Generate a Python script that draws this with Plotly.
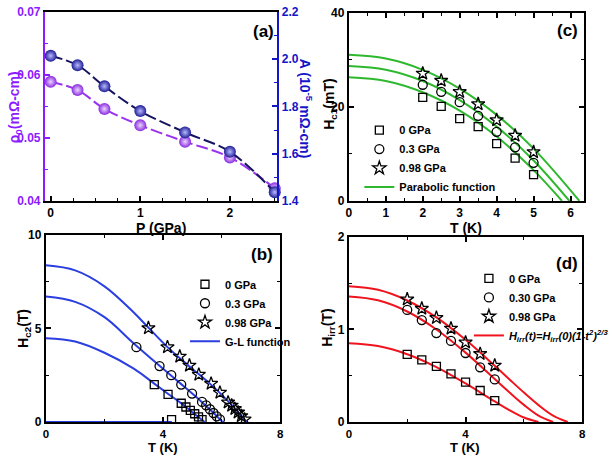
import plotly.graph_objects as go

# ---------------- data ----------------
# (a) residual resistivity and A coefficient vs pressure
P_gpa = [0, 0.3, 0.6, 1.0, 1.5, 2.0, 2.5]
rho0 = [0.0589, 0.0576, 0.0546, 0.0520, 0.0494, 0.0469, 0.0420]
A_coef = [2.014, 1.974, 1.885, 1.780, 1.690, 1.608, 1.437]

# (c) Hc1 vs T
T_c = [2, 2.5, 3, 3.5, 4, 4.5, 5]
hc1_0 = [22.0, 20.1, 17.5, 15.8, 12.2, 9.1, 5.6]
hc1_03 = [24.7, 23.2, 21.0, 18.1, 14.7, 11.4, 8.1]
hc1_098 = [27.1, 25.6, 23.2, 20.6, 17.2, 13.9, 10.4]
# parabolic fit curves
fitc_T0 = [0, 1, 2, 3, 4, 5, 5.77]
fitc_H0 = [26.3, 25.5, 23.1, 19.2, 13.7, 6.55, 0]
fitc_T1 = [0, 1, 2, 3, 4, 5, 5.97]
fitc_H1 = [28.7, 27.9, 25.5, 21.45, 15.8, 8.6, 0]
fitc_T2 = [0, 1, 2, 3, 4, 5, 6.24]
fitc_H2 = [31.07, 30.27, 27.88, 23.89, 18.3, 11.12, 0]

# (b) Hc2 vs T
b_T0 = [3.7, 4.17, 4.29, 4.62, 4.78, 4.93, 5.08, 5.21, 5.33]
b_H0 = [2.0, 1.48, 0.13, 1.0, 0.8, 0.62, 0.44, 0.27, 0.13]
b_T1 = [3.09, 3.88, 4.28, 4.62, 4.99, 5.33, 5.47, 5.6, 5.72, 5.83, 5.94]
b_H1 = [4.0, 2.99, 2.5, 2.0, 1.52, 1.07, 0.89, 0.68, 0.48, 0.3, 0.14]
b_T2 = [3.5, 4.15, 4.57, 4.9, 5.22, 5.64, 5.94, 6.22, 6.34, 6.45, 6.56, 6.67, 6.78]
b_H2 = [5.02, 4.0, 3.5, 3.02, 2.53, 2.05, 1.57, 1.05, 0.88, 0.7, 0.51, 0.32, 0.14]
# G-L fit curves
glb_T0 = [0, 1, 2, 3, 3.7, 4.2, 4.6, 5.0, 5.42]
glb_H0 = [4.48, 4.3, 3.7, 2.85, 2.05, 1.47, 1.02, 0.52, 0]
glb_T1 = [0, 1, 2, 3, 3.9, 4.6, 5.3, 5.7, 6.03]
glb_H1 = [6.7, 6.42, 5.6, 4.2, 2.98, 2.05, 1.1, 0.52, 0]
glb_T2 = [0, 1, 2, 3, 3.5, 4.15, 4.9, 5.6, 6.25, 6.85]
glb_H2 = [8.37, 8.1, 7.25, 5.85, 5.04, 4.0, 2.97, 2.05, 1.06, 0]
base_T = [0, 4.3]
base_H = [0, 0]

# (d) Hirr vs T
T_d = [2, 2.5, 3, 3.5, 4, 4.5, 5]
hirr_0 = [0.73, 0.67, 0.60, 0.52, 0.43, 0.34, 0.23]
hirr_03 = [1.21, 1.10, 0.96, 0.875, 0.745, 0.59, 0.46]
hirr_098 = [1.325, 1.225, 1.125, 1.01, 0.86, 0.735, 0.61]
fitd_T0 = [0, 1, 2, 3, 4, 5, 5.5, 6, 6.5]
fitd_H0 = [0.85, 0.82, 0.732, 0.593, 0.416, 0.222, 0.129, 0.048, 0]
fitd_T1 = [0, 1, 2, 3, 4, 5, 5.5, 6, 6.5, 7.0]
fitd_H1 = [1.355, 1.314, 1.193, 0.999, 0.749, 0.464, 0.321, 0.185, 0.069, 0]
fitd_T2 = [0, 1, 2, 3, 4, 5, 5.5, 6, 6.5, 7.0, 7.5]
fitd_H2 = [1.466, 1.427, 1.312, 1.129, 0.887, 0.607, 0.461, 0.317, 0.182, 0.068, 0]

# ---------------- styles ----------------
FONT = "Arial, Liberation Sans, sans-serif"
PURPLE = "#9A33F0"
PURPLE_AX = "#8C1CFF"
NAVY = "#1E1E96"
BLUE_AX = "#1515C8"
BLUE_L = "#2B3FE0"
RED_L = "#F0141E"
GREEN_L = "#2EB82E"
W, H = 614, 460

fig = go.Figure()

# ---- (a)
fig.add_trace(go.Scatter(x=P_gpa, y=rho0, xaxis="x", yaxis="y", mode="lines+markers",
                         line=dict(color=PURPLE, width=2, dash="12px,4px", shape="spline"),
                         marker=dict(size=12, color="#8A2BE0",
                                     gradient=dict(type="radial", color="#EBD6FF"),
                                     line=dict(width=0)),
                         cliponaxis=False, showlegend=False))
fig.add_trace(go.Scatter(x=P_gpa, y=A_coef, xaxis="x", yaxis="y2", mode="lines+markers",
                         line=dict(color="#141460", width=2, dash="12px,4px", shape="spline"),
                         marker=dict(size=12, color=NAVY,
                                     gradient=dict(type="radial", color="#B8B8FF"),
                                     line=dict(width=0)),
                         cliponaxis=False, showlegend=False))

# ---- (c)
mk_sq = dict(symbol="square-open", size=8, color="black", line=dict(width=1.3))
mk_ci = dict(symbol="circle-open", size=9, color="black", line=dict(width=1.3))
mk_st = dict(symbol="star-open", size=10, color="black", line=dict(width=1.3))

for i, (tx, hy) in enumerate([(fitc_T0, fitc_H0), (fitc_T1, fitc_H1), (fitc_T2, fitc_H2)]):
    fig.add_trace(go.Scatter(x=tx, y=hy, xaxis="x2", yaxis="y3", mode="lines",
                             line=dict(color=GREEN_L, width=2, shape="spline"),
                             name="Parabolic function", legend="legend",
                             showlegend=(i == 0), legendrank=4))
fig.add_trace(go.Scatter(x=T_c, y=hc1_0, xaxis="x2", yaxis="y3", mode="markers", marker=mk_sq,
                         name="0 GPa", legend="legend", legendrank=1))
fig.add_trace(go.Scatter(x=T_c, y=hc1_03, xaxis="x2", yaxis="y3", mode="markers", marker=mk_ci,
                         name="0.3 GPa", legend="legend", legendrank=2))
fig.add_trace(go.Scatter(x=T_c, y=hc1_098, xaxis="x2", yaxis="y3", mode="markers", marker=mk_st,
                         name="0.98 GPa", legend="legend", legendrank=3))

# ---- (b)
fig.add_trace(go.Scatter(x=base_T, y=base_H, xaxis="x3", yaxis="y4", mode="lines",
                         line=dict(color=BLUE_L, width=2), showlegend=False, cliponaxis=False))
for i, (tx, hy) in enumerate([(glb_T0, glb_H0), (glb_T1, glb_H1), (glb_T2, glb_H2)]):
    fig.add_trace(go.Scatter(x=tx, y=hy, xaxis="x3", yaxis="y4", mode="lines",
                             line=dict(color=BLUE_L, width=2, shape="spline"),
                             name="G-L function", legend="legend2",
                             showlegend=(i == 0), legendrank=4))
fig.add_trace(go.Scatter(x=b_T0, y=b_H0, xaxis="x3", yaxis="y4", mode="markers", marker=mk_sq,
                         name="0 GPa", legend="legend2", legendrank=1))
fig.add_trace(go.Scatter(x=b_T1, y=b_H1, xaxis="x3", yaxis="y4", mode="markers", marker=mk_ci,
                         name="0.3 GPa", legend="legend2", legendrank=2))
fig.add_trace(go.Scatter(x=b_T2, y=b_H2, xaxis="x3", yaxis="y4", mode="markers", marker=mk_st,
                         name="0.98 GPa", legend="legend2", legendrank=3))

# ---- (d)
for i, (tx, hy) in enumerate([(fitd_T0, fitd_H0), (fitd_T1, fitd_H1), (fitd_T2, fitd_H2)]):
    fig.add_trace(go.Scatter(x=tx, y=hy, xaxis="x4", yaxis="y5", mode="lines",
                             line=dict(color=RED_L, width=2, shape="spline"),
                             name="<i>H<sub>irr</sub>(t)=H<sub>irr</sub>(0)(1-t<sup>2</sup>)<sup>2/3</sup></i>",
                             legend="legend3", showlegend=(i == 0), legendrank=4))
fig.add_trace(go.Scatter(x=T_d, y=hirr_0, xaxis="x4", yaxis="y5", mode="markers", marker=mk_sq,
                         name="0 GPa", legend="legend3", legendrank=1))
fig.add_trace(go.Scatter(x=T_d, y=hirr_03, xaxis="x4", yaxis="y5", mode="markers", marker=mk_ci,
                         name="0.30 GPa", legend="legend3", legendrank=2))
fig.add_trace(go.Scatter(x=T_d, y=hirr_098, xaxis="x4", yaxis="y5", mode="markers", marker=mk_st,
                         name="0.98 GPa", legend="legend3", legendrank=3))


def px_x(v):
    return v / W


def px_y(v):
    return 1 - v / H


def ax(domain, rng, tickvals, ticktext, minor_dtick, anchor, color="black", mirror="ticks",
       side=None, overlaying=None, fsize=12):
    d = dict(domain=domain, range=rng, tickmode="array", tickvals=tickvals, ticktext=ticktext,
             ticks="inside", ticklen=5, tickwidth=1.5, tickcolor=color,
             minor=dict(ticks="inside", ticklen=3, tickwidth=1.2, dtick=minor_dtick,
                        tick0=0, tickcolor=color, showgrid=False),
             showline=True, linecolor=color, linewidth=2, mirror=mirror,
             showgrid=False, zeroline=False, anchor=anchor,
             tickfont=dict(family=FONT, size=fsize, color=color, weight="bold"))
    if side:
        d["side"] = side
    if overlaying:
        d["overlaying"] = overlaying
    return d


ya = [1 - 200 / H, 1 - 5 / H]
yc = [1 - 200 / H, 1 - 6 / H]
yb = [1 - 428 / H, 1 - 235 / H]
yd = [1 - 428 / H, 1 - 237 / H]

leg_common = dict(font=dict(family=FONT, size=11, color="black", weight="bold"),
                  bgcolor="rgba(0,0,0,0)", borderwidth=0, xanchor="left", yanchor="top",
                  tracegroupgap=0, traceorder="normal")

fig.update_layout(
    width=W, height=H, margin=dict(l=0, r=0, t=0, b=0),
    paper_bgcolor="white", plot_bgcolor="white",
    font=dict(family=FONT, size=12, color="black"),
    xaxis=ax([44 / W, 288 / W], [-0.064, 2.53], [0, 1, 2], ["0", "1", "2"], 0.25, "y",
             mirror=True),
    yaxis=ax(ya, [0.04, 0.07], [0.04, 0.05, 0.06, 0.07], ["0.04", "0.05", "0.06", "0.07"],
             0.005, "x", color=PURPLE_AX, mirror=False),
    yaxis2=ax(ya, [1.4, 2.2], [1.4, 1.6, 1.8, 2.0, 2.2], ["1.4", "1.6", "1.8", "2.0", "2.2"],
              0.1, "x", color=BLUE_AX, mirror=False, side="right", overlaying="y"),
    xaxis2=ax([363 / W, 610 / W], [0, 6.37], [0, 1, 2, 3, 4, 5, 6],
              ["0", "1", "2", "3", "4", "5", "6"], 0.5, "y3"),
    yaxis3=ax(yc, [0, 40], [0, 20, 40], ["0", "20", "40"], 10, "x2"),
    xaxis3=ax([45 / W, 291 / W], [0, 8], [0, 4, 8], ["0", "4", "8"], 2, "y4", fsize=11.5),
    yaxis4=ax(yb, [0, 10], [0, 5, 10], ["0", "5", "10"], 2.5, "x3"),
    xaxis4=ax([363 / W, 608 / W], [0, 8], [0, 4, 8], ["0", "4", "8"], 2, "y5", fsize=11.5),
    yaxis5=ax(yd, [0, 2], [0, 1, 2], ["0", "1", "2"], 0.5, "x4"),
    legend=dict(x=374 / W, y=px_y(112), **leg_common),
    legend2=dict(x=191 / W, y=px_y(271), **leg_common),
    legend3=dict(x=489 / W, y=px_y(265), **leg_common),
)

ann = []


def add_text(text, x, y, size=14, color="black", angle=0):
    ann.append(dict(text=text, x=px_x(x), y=px_y(y), xref="paper", yref="paper",
                    showarrow=False, textangle=angle, xanchor="center", yanchor="middle",
                    font=dict(family=FONT, size=size, color=color, weight="bold")))


add_text("(a)", 273, 25, size=17)
add_text("(c)", 592, 24, size=17)
add_text("(b)", 272, 255, size=17)
add_text("(d)", 592, 265, size=17)

add_text("P (GPa)", 166, 228, size=14)
add_text("ρ<sub>0</sub>(mΩ-cm)", 12, 103, size=14, color=PURPLE_AX, angle=-90)
add_text("A (10<sup>-5</sup> mΩ-cm)", 318, 105, size=14, color=BLUE_AX, angle=90)

add_text("T (K)", 486, 228, size=14)
add_text("H<sub>c1</sub>(mT)", 343, 100, size=14, angle=-90)

add_text("T (K)", 168, 454, size=13)
add_text("H<sub>c2</sub>(T)", 22, 331, size=14, angle=-90)

add_text("T (K)", 485, 454, size=13)
add_text("H<sub>irr</sub>(T)", 341, 331, size=14, angle=-90)

fig.update_layout(annotations=ann)

fig.write_html("out.html")
